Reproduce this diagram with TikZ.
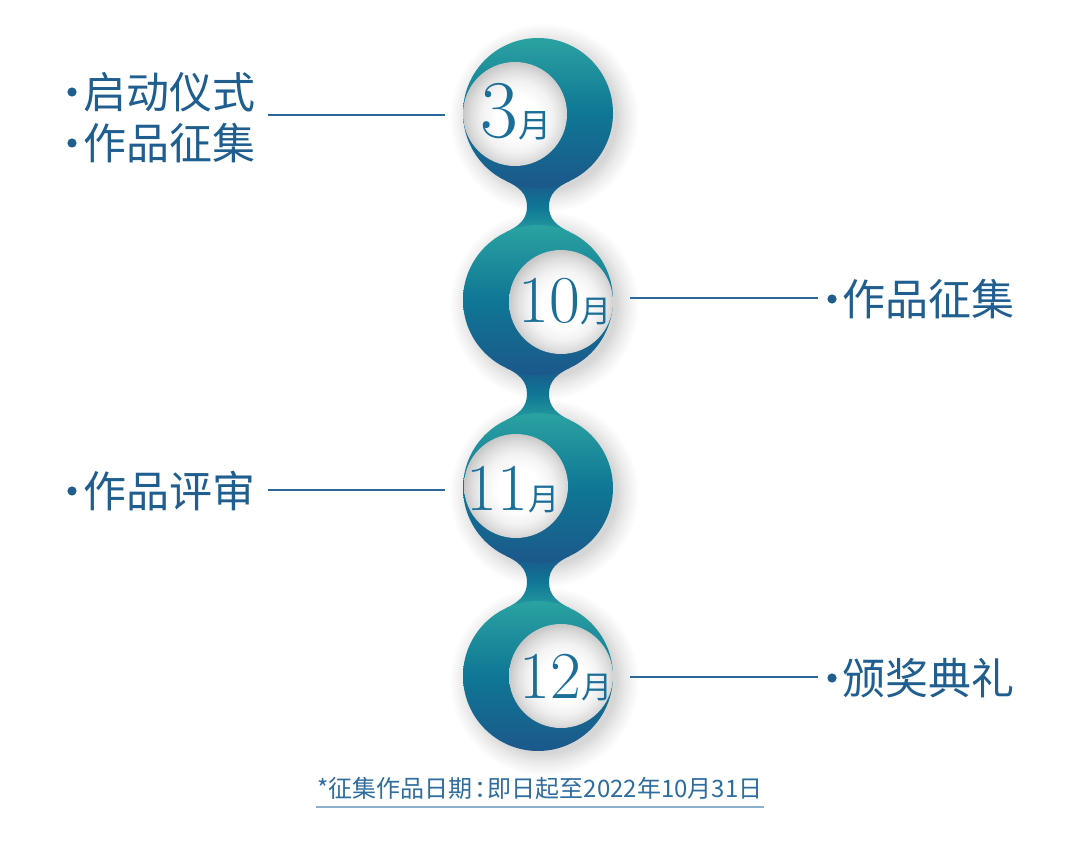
\documentclass[tikz,border=0pt]{standalone}
\usepackage{fontspec}
\newfontfamily\cjk{Noto Sans CJK SC}
\usetikzlibrary{calc}
\definecolor{tealA}{HTML}{2AA2A1}
\definecolor{midB}{HTML}{0F7795}
\definecolor{navyC}{HTML}{1C588B}
\definecolor{txtC}{HTML}{1F5E8F}
\definecolor{numC}{HTML}{1B6E98}
\definecolor{lineC}{HTML}{2B679A}
\definecolor{footC}{HTML}{2E6D9E}
\definecolor{ulC}{HTML}{8CAFCF}
% radial shadings: the circle's rim lies at about 25bp
\pgfdeclareradialshading{innerball}{\pgfpoint{1.5bp}{-2bp}}{color(0bp)=(white); color(10bp)=(white); color(17bp)=(black!5); color(22bp)=(black!13); color(26bp)=(black!22); color(50bp)=(black!24)}
\pgfdeclareradialshading{halo}{\pgfpoint{0bp}{0bp}}{color(0bp)=(black!17); color(19bp)=(black!16); color(21.5bp)=(black!8); color(25bp)=(white); color(50bp)=(white)}
\begin{document}
\begin{tikzpicture}[x=1pt,y=-1pt,
  bigball/.style={top color=tealA, bottom color=navyC, middle color=midB},
  neckfill/.style={top color=navyC, bottom color=tealA!85!midB, middle color=midB},
  conn/.style={draw=lineC, line width=1.6pt},
  label/.style={font=\cjk\fontsize{43}{43}\selectfont, text=txtC, inner sep=0pt, anchor=west},
  numtxt/.style={text=numC, inner sep=0pt, anchor=base},
  bul/.style={fill=txtC}
]
\useasboundingbox (0,0) rectangle (1080,845);
\fill[white] (0,0) rectangle (1080,845);

% halos
\foreach \cy in {113,300,488,676}
  \shade[shading=halo] (544,\cy+5) circle (95);

% necks
\foreach \ya/\yb in {113/300, 300/488, 488/676} {
  \pgfmathsetmacro\ym{(\ya+\yb)/2}
  \shade[neckfill]
    (506,\ya+67.8) .. controls (519,\ya+74) and (527,\ym-13) .. (527,\ym)
    .. controls (527,\ym+13) and (519,\yb-74) .. (506,\yb-67.8)
    -- (570,\yb-67.8)
    .. controls (557,\yb-74) and (549,\ym+13) .. (549,\ym)
    .. controls (549,\ym-13) and (557,\ya+74) .. (570,\ya+67.8) -- cycle;
}

% big balls
\foreach \cy in {113,300,488,676}
  \shade[bigball] (538,\cy) circle (75);

% inner white balls
\shade[shading=innerball] (515,114) circle (52);
\shade[shading=innerball] (561,302) circle (52);
\shade[shading=innerball] (516,486) circle (52);
\shade[shading=innerball] (561,676) circle (52);

% month texts
\node[numtxt] (m3) at (516,138) {\fontsize{82}{82}\selectfont 3\cjk\fontsize{33}{33}\selectfont 月};
\node[numtxt] (m10) at (565,323) {\fontsize{67}{67}\selectfont 10\cjk\fontsize{31}{31}\selectfont 月};
\node[numtxt] (m11) at (513,510) {\fontsize{67}{67}\selectfont 11\cjk\fontsize{31}{31}\selectfont 月};
\node[numtxt] (m12) at (566,698) {\fontsize{67}{67}\selectfont 12\cjk\fontsize{31}{31}\selectfont 月};

% labels
\node[label] (a1) at (83,92) {启动仪式};
\node[label] (a2) at (83,143) {作品征集};
\node[label] (b1) at (842,299) {作品征集};
\node[label] (c1) at (83,491) {作品评审};
\node[label] (d1) at (842,678) {颁奖典礼};
\fill[bul] (72,92) circle (4.6);
\fill[bul] (72,143) circle (4.6);
\fill[bul] (832,299) circle (4.6);
\fill[bul] (72,491) circle (4.6);
\fill[bul] (832,678) circle (4.6);

% connectors
\coordinate (p1a) at (268,115); \coordinate (p1b) at (445,115);
\coordinate (p2a) at (630,298); \coordinate (p2b) at (818,298);
\coordinate (p3a) at (268,490); \coordinate (p3b) at (445,490);
\coordinate (p4a) at (630,677); \coordinate (p4b) at (818,677);
\draw[conn] (p1a) -- (p1b);
\draw[conn] (p2a) -- (p2b);
\draw[conn] (p3a) -- (p3b);
\draw[conn] (p4a) -- (p4b);

% footer
\node[text=footC, inner sep=0pt] (foot) at (540,788) {\cjk\fontsize{24}{24}\selectfont *征集作品日期\kern0.08em：\kern-0.45em即日起至2022年10月31日};
\coordinate (u1) at (316,807); \coordinate (u2) at (764,807);
\draw[ulC, line width=1.5pt] (u1) -- (u2);
\end{tikzpicture}
\end{document}
